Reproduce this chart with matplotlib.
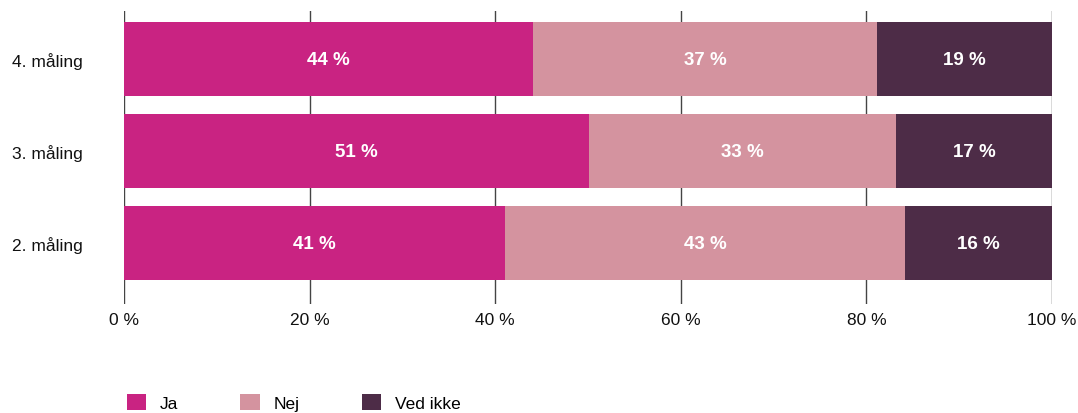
import matplotlib.pyplot as plt
import numpy as np

plt.rcParams['font.family'] = ['Liberation Sans', 'DejaVu Sans']

categories = ['2. måling', '3. måling', '4. måling']
series = ['Ja', 'Nej', 'Ved ikke']
ja = [41.1, 50.1, 44.1]
nej = [43.0, 33.1, 37.0]
ved_ikke = [15.9, 16.8, 18.9]
ja_labels = ['41 %', '51 %', '44 %']
nej_labels = ['43 %', '33 %', '37 %']
ved_ikke_labels = ['16 %', '17 %', '19 %']
xticks = [0, 20, 40, 60, 80, 100]
colors = ['#C92382', '#D4939F', '#4D2C47']

fig = plt.figure(figsize=(10.78, 4.14), dpi=100)
ax = fig.add_axes([0.115, 0.263, 0.861, 0.708])

y = np.arange(len(categories))
for xv in xticks:
    ax.axvline(xv, color='#444444', linewidth=1, zorder=0)

left = np.zeros(len(categories))
for vals, labels, color, name in zip([ja, nej, ved_ikke],
                                     [ja_labels, nej_labels, ved_ikke_labels],
                                     colors, series):
    bars = ax.barh(y, vals, left=left, height=0.8, color=color, label=name, zorder=2)
    ax.bar_label(bars, labels=labels, label_type='center', color='white',
                 fontsize=13.5, fontweight='bold')
    left = left + np.array(vals)

ax.set_xlim(0, 100)
ax.set_ylim(-0.663, 2.522)
ax.set_xticks(xticks)
ax.set_xticklabels([f'{v} %' for v in xticks], fontsize=12.5)
ax.set_yticks(y)
ax.set_yticklabels(categories, fontsize=12.5)
ax.tick_params(axis='both', length=0, colors='#111111')
ax.tick_params(axis='x', pad=6)
ax.tick_params(axis='y', pad=30)
for s in ax.spines.values():
    s.set_visible(False)

fig.legend(loc='lower left', bbox_to_anchor=(0.111, -0.012), ncol=3, frameon=False,
           fontsize=12.5, handlelength=1.1, handleheight=1.1, handletextpad=0.8,
           columnspacing=3.6, borderaxespad=0)

fig.savefig('out.png', dpi=100)
